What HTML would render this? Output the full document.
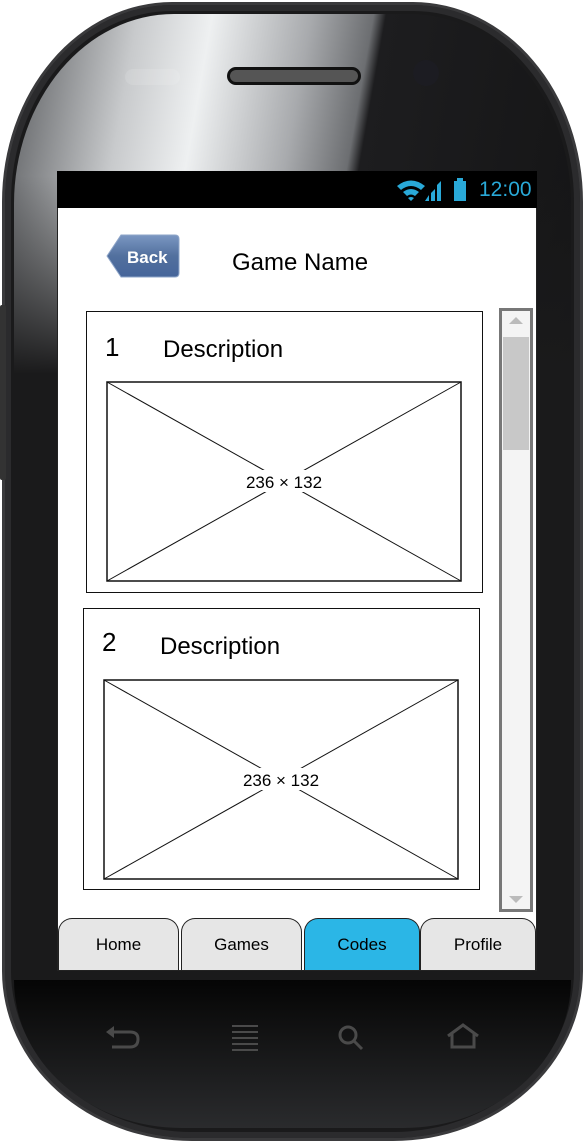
<!DOCTYPE html>
<html><head><meta charset="utf-8">
<style>
*{margin:0;padding:0;box-sizing:border-box}
body{width:585px;height:1143px;background:#fff;position:relative;overflow:hidden;font-family:"Liberation Sans",sans-serif}
.abs{position:absolute}
#phone{left:2px;top:2px;width:581px;height:1139px;border-radius:170px 170px 190px 190px/200px 200px 170px 170px;background:#1a1a1b;border:3px solid #3a3a3c;box-shadow:inset 0 0 0 6px #2b2b2d}
#gloss{left:14px;top:14px;width:557px;height:360px;border-radius:160px 160px 0 0/190px 190px 0 0;background:linear-gradient(to bottom,rgba(26,26,27,0) 0%,rgba(26,26,27,0) 45%,rgba(26,26,27,1) 100%),linear-gradient(100deg,#5a5c5f 0%,#c8cacc 20%,#eef0f1 32%,#a8aaad 48%,#6c6e71 58%,#1d1d1f 60%,#151516 100%)}
#chin{left:14px;top:980px;width:557px;height:148px;border-radius:0 0 170px 170px/0 0 150px 150px;background:linear-gradient(#050505,#2a2b2d)}
.hand{font-family:"Liberation Sans",sans-serif;color:#000}
</style></head><body>
<div class="abs" id="phone"></div>
<div class="abs" id="gloss"></div>
<div class="abs" id="chin"></div>
<div class="abs" style="left:0;top:305px;width:6px;height:175px;background:#333;border-radius:2px"></div>
<div class="abs" style="left:227px;top:67px;width:134px;height:18px;border-radius:9px;background:#555;border:3px solid #111"></div>
<div class="abs" style="left:413px;top:60px;width:26px;height:26px;border-radius:50%;background:#1c1c22"></div>
<div class="abs" style="left:125px;top:69px;width:55px;height:16px;border-radius:8px;background:rgba(255,255,255,0.12)"></div>

<div class="abs" style="left:57px;top:171px;width:480px;height:800px;background:#fff;border:1px solid #222"></div>
<div class="abs" style="left:57px;top:171px;width:480px;height:37px;background:#000">
 <svg class="abs" style="left:338px;top:6px" width="80" height="26">
  <path d="M2 9 Q16 -2 30 9 L26 13 Q16 5 6 13Z M8 15 Q16 9 24 15 L20 19 Q16 16 12 19Z M13 21 L16 24 L19 21 Q16 19 13 21Z" fill="#29a9d8"/>
  <path d="M30 24 L34 24 L34 18Z M36 24 L40 24 L40 12 L36 16Z M42 24 L46 24 L46 4 L42 8Z" fill="#29a9d8"/>
  <rect x="59" y="4" width="12" height="20" fill="#29a9d8"/><rect x="62" y="1" width="6" height="3" fill="#29a9d8"/>
 </svg>
 <div class="abs" style="left:422px;top:7px;color:#29a9d8;font-size:21px">12:00</div>
</div>

<svg class="abs" style="left:105px;top:234px" width="76" height="44">
 <defs><linearGradient id="bg" x1="0" y1="0" x2="0" y2="1"><stop offset="0" stop-color="#7b97c2"/><stop offset="0.5" stop-color="#52709e"/><stop offset="1" stop-color="#46659a"/></linearGradient></defs>
 <path d="M2 22 L16 1 L70 1 Q74 1 74 5 L74 39 Q74 43 70 43 L16 43Z" fill="url(#bg)" stroke="#8ea5c8"/>
 <text x="22" y="29" fill="#fff" font-size="17" font-weight="bold" font-family="Liberation Sans">Back</text>
</svg>
<div class="abs hand" style="left:232px;top:249px;font-size:24px">Game Name</div>

<div class="abs" style="left:86px;top:311px;width:397px;height:282px;border:1.5px solid #111">
 <div class="abs hand" style="left:18px;top:20px;font-size:26px">1</div>
 <div class="abs hand" style="left:76px;top:24px;font-size:24px">Description</div>
</div>
<svg class="abs" style="left:106px;top:381px" width="356" height="201">
 <rect x="1" y="1" width="354" height="199" fill="#fff" stroke="#111" stroke-width="1.5"/>
 <line x1="1" y1="1" x2="355" y2="200" stroke="#111"/><line x1="355" y1="1" x2="1" y2="200" stroke="#111"/>
 <rect x="134" y="89" width="88" height="22" fill="#fff"/>
 <text x="178" y="107" text-anchor="middle" font-size="17" font-family="Liberation Sans">236 × 132</text>
</svg>

<div class="abs" style="left:83px;top:608px;width:397px;height:282px;border:1.5px solid #111">
 <div class="abs hand" style="left:18px;top:18px;font-size:26px">2</div>
 <div class="abs hand" style="left:76px;top:24px;font-size:24px">Description</div>
</div>
<svg class="abs" style="left:103px;top:679px" width="356" height="201">
 <rect x="1" y="1" width="354" height="199" fill="#fff" stroke="#111" stroke-width="1.5"/>
 <line x1="1" y1="1" x2="355" y2="200" stroke="#111"/><line x1="355" y1="1" x2="1" y2="200" stroke="#111"/>
 <rect x="134" y="89" width="88" height="22" fill="#fff"/>
 <text x="178" y="107" text-anchor="middle" font-size="17" font-family="Liberation Sans">236 × 132</text>
</svg>

<svg class="abs" style="left:499px;top:308px" width="34" height="604">
 <rect x="1.5" y="1.5" width="31" height="601" fill="#f4f4f4" stroke="#777" stroke-width="3"/>
 <rect x="4" y="29" width="26" height="113" fill="#c8c8c8"/>
 <path d="M10 16 L17 9 L24 16Z" fill="#bbb"/><path d="M10 588 L17 595 L24 588Z" fill="#bbb"/>
</svg>

<div class="abs" style="left:58px;top:918px;width:478px;height:52px">
 <div class="abs" style="left:0;top:0;width:121px;height:52px;background:#e6e6e6;border:1.5px solid #222;border-bottom:none;border-radius:14px 14px 0 0"><div class="hand" style="text-align:center;margin-top:16px;font-size:17px">Home</div></div>
 <div class="abs" style="left:123px;top:0;width:121px;height:52px;background:#e6e6e6;border:1.5px solid #222;border-bottom:none;border-radius:14px 14px 0 0"><div class="hand" style="text-align:center;margin-top:16px;font-size:17px">Games</div></div>
 <div class="abs" style="left:246px;top:0;width:116px;height:52px;background:#2bb6e6;border:1.5px solid #222;border-bottom:none;border-radius:14px 14px 0 0"><div class="hand" style="text-align:center;margin-top:16px;font-size:17px">Codes</div></div>
 <div class="abs" style="left:362px;top:0;width:116px;height:52px;background:#e6e6e6;border:1.5px solid #222;border-bottom:none;border-radius:14px 14px 0 0"><div class="hand" style="text-align:center;margin-top:16px;font-size:17px">Profile</div></div>
</div>

<svg class="abs" style="left:100px;top:1020px" width="400" height="40">
 <g stroke="#4a4a4a" stroke-width="3" fill="none">
  <path d="M10 12 L30 12 Q38 12 38 19 Q38 27 30 27 L12 27"/>
  <path d="M132 6 H158 M132 12 H158 M132 18 H158 M132 24 H158 M132 30 H158" stroke-width="2"/>
  <circle cx="248" cy="15" r="8"/><path d="M254 21 L262 29"/>
  <path d="M348 16 L363 5 L378 16 M352 14 L352 27 L374 27 L374 14"/>
 </g>
 <path d="M6 12 L14 6 L14 18Z" fill="#4a4a4a"/>
</svg>
</body></html>
